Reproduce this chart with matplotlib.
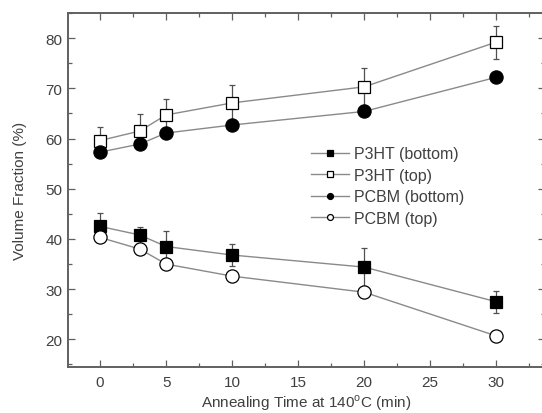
import matplotlib
matplotlib.use("Agg")
import matplotlib.pyplot as plt
from matplotlib.ticker import MultipleLocator

plt.rcParams['font.family'] = ['Liberation Sans', 'DejaVu Sans']

time_min = [0, 3, 5, 10, 20, 30]
p3ht_bottom = [42.5, 40.8, 38.5, 36.8, 34.4, 27.5]
p3ht_bottom_err = [2.6, 1.6, 3.1, 2.2, 3.8, 2.2]
p3ht_top = [59.6, 61.5, 64.7, 67.1, 70.3, 79.2]
p3ht_top_err = [2.7, 3.3, 3.2, 3.6, 3.7, 3.3]
pcbm_bottom = [57.3, 58.9, 61.1, 62.7, 65.4, 72.2]
pcbm_top = [40.3, 38.0, 35.0, 32.6, 29.4, 20.7]

labels = ["P3HT (bottom)", "P3HT (top)", "PCBM (bottom)", "PCBM (top)"]

fig = plt.figure(figsize=(5.42, 4.14), dpi=100)
ax = fig.add_axes([0.1255, 0.1111, 0.88, 0.855])

line_c = '#8a8a8a'
text_c = '#404040'
spine_c = '#606060'
fs = 11

series = [
    (p3ht_bottom, p3ht_bottom_err, 's', 'black', 8.5),
    (p3ht_top, p3ht_top_err, 's', 'white', 8.5),
    (pcbm_bottom, None, 'o', 'black', 9.5),
    (pcbm_top, None, 'o', 'white', 9.5),
]

handles = []
for (vals, err, mk, fc, ms), lab in zip(series, labels):
    if err is not None:
        ax.errorbar(time_min, vals, yerr=err, fmt='none', ecolor='#505050',
                    elinewidth=0.9, capsize=2.5, capthick=0.9, zorder=2)
    h, = ax.plot(time_min, vals, color=line_c, lw=1.0, marker=mk, ms=ms,
                 mfc=fc, mec='black', mew=0.9, label=lab, zorder=3)
    handles.append(h)

ax.set_xlim(-2.43, 33.7)
ax.set_ylim(14.5, 85)
ax.xaxis.set_major_locator(MultipleLocator(5))
ax.xaxis.set_minor_locator(MultipleLocator(2.5))
ax.yaxis.set_minor_locator(MultipleLocator(5))
ax.set_yticks(range(20, 81, 10))
ax.tick_params(which='both', direction='in', top=True, right=True,
               color=spine_c, labelcolor=text_c, labelsize=fs)
ax.tick_params(which='major', length=5, width=0.9)
ax.tick_params(axis='y', which='major', pad=4)
ax.tick_params(axis='x', which='major', pad=6)
ax.tick_params(which='minor', length=3, width=0.9)
for s in ax.spines.values():
    s.set_color(spine_c)
    s.set_linewidth(1.4)

ax.set_xlabel("Annealing Time at 140$^{\\mathregular{o}}$C (min)", color=text_c, fontsize=fs, labelpad=2)
ax.set_ylabel("Volume Fraction (%)", color=text_c, fontsize=fs, labelpad=13)

leg = ax.legend(handles=handles, loc='upper left', bbox_to_anchor=(0.485, 0.655),
                frameon=False, fontsize=fs + 0.5, markerscale=0.45, handlelength=2.4,
                handletextpad=0.3, labelspacing=0.4, borderpad=0.2)
for t in leg.get_texts():
    t.set_color(text_c)

fig.savefig("out.png", dpi=100)
